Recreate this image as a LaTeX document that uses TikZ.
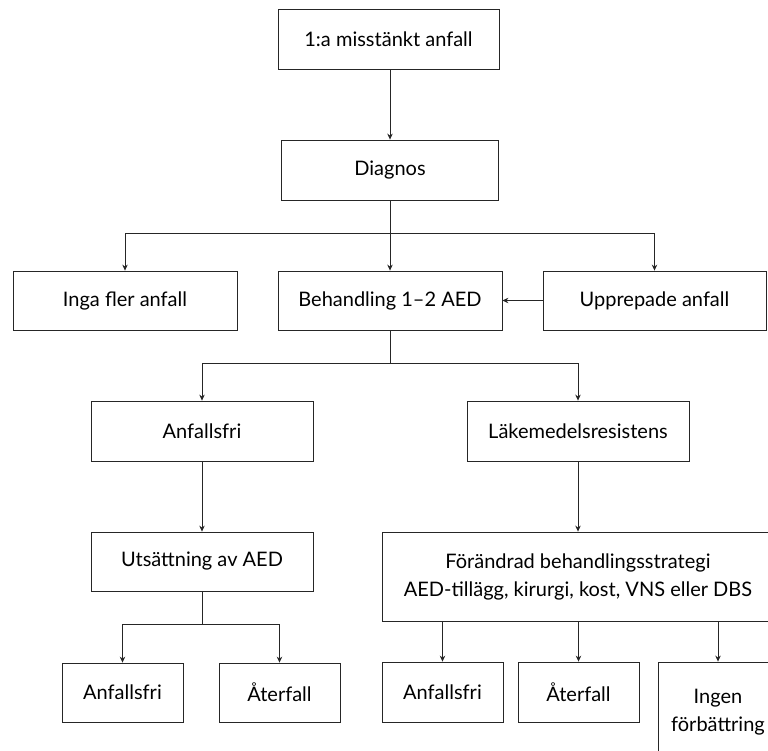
\documentclass[tikz,border=0pt]{standalone}
\usepackage{fontspec}
\setmainfont{Lato}
\usetikzlibrary{arrows.meta}

\tikzset{
  box/.style={draw=black!85, line width=0.8pt, align=center, inner sep=0pt,
    font=\fontsize{20}{28}\selectfont},
  arr/.style={draw=black!85, line width=0.8pt, -{Stealth[length=6pt,width=5.5pt]}},
  ln/.style={draw=black!85, line width=0.8pt}
}

\begin{document}
\begin{tikzpicture}[x=1pt,y=-1pt]
\useasboundingbox (0,0) rectangle (768,751);
% boxes
\node[box, minimum width=221pt, minimum height=60pt] (first) at (388.5,39) {1:a misstänkt anfall};
\node[box, minimum width=217pt, minimum height=60pt] (diag) at (390,170) {Diagnos};
\node[box, minimum width=224pt, minimum height=59pt] (inga) at (125,300.5) {Inga fler anfall};
\node[box, minimum width=224pt, minimum height=59pt] (beh) at (390,300.5) {Behandling 1--2 AED};
\node[box, minimum width=223pt, minimum height=59pt] (upp) at (654.5,300.5) {Upprepade anfall};
\node[box, minimum width=222pt, minimum height=60pt] (fri) at (202,431) {Anfallsfri};
\node[box, minimum width=222pt, minimum height=60pt] (lak) at (578,431) {Läkemedelsresistens};
\node[box, minimum width=222pt, minimum height=59pt] (uts) at (202,561.5) {Utsättning av AED};
\node[box, minimum width=392pt, minimum height=89pt] (strat) at (578,576.5) {Förändrad behandlingsstrategi\\AED-tillägg, kirurgi, kost, VNS eller DBS};
\node[box, minimum width=121pt, minimum height=59pt] (fri2) at (122.5,692.5) {Anfallsfri};
\node[box, minimum width=121pt, minimum height=59pt] (ater2) at (279.5,692.5) {Återfall};
\node[box, minimum width=121pt, minimum height=60pt] (fri3) at (442.5,692) {Anfallsfri};
\node[box, minimum width=121pt, minimum height=60pt] (ater3) at (578.5,692) {Återfall};
\node[box, minimum width=120pt, minimum height=100pt] (ingen) at (718,712) {Ingen\\förbättring};

% connectors
\draw[arr] (first.south -| diag) -- (diag.north);
\draw[ln] (diag.south) -- ++(0,33) coordinate (split1);
\draw[arr] (split1) -| (inga.north);
\draw[arr] (split1) -- (beh.north);
\draw[arr] (split1) -| (upp.north);
\draw[arr] (upp.west) -- (beh.east);
\draw[ln] (beh.south) -- ++(0,33) coordinate (split2);
\draw[arr] (split2) -| (fri.north);
\draw[arr] (split2) -| (lak.north);
\draw[arr] (fri.south) -- (uts.north);
\draw[arr] (lak.south) -- (strat.north);
\draw[ln] (uts.south) -- ++(0,33) coordinate (split3);
\draw[arr] (split3) -| (fri2.north);
\draw[arr] (split3) -| (ater2.north);
\draw[arr] (fri3.north |- strat.south) -- (fri3.north);
\draw[arr] (ater3.north |- strat.south) -- (ater3.north);
\draw[arr] (ingen.north |- strat.south) -- (ingen.north);
\end{tikzpicture}
\end{document}
